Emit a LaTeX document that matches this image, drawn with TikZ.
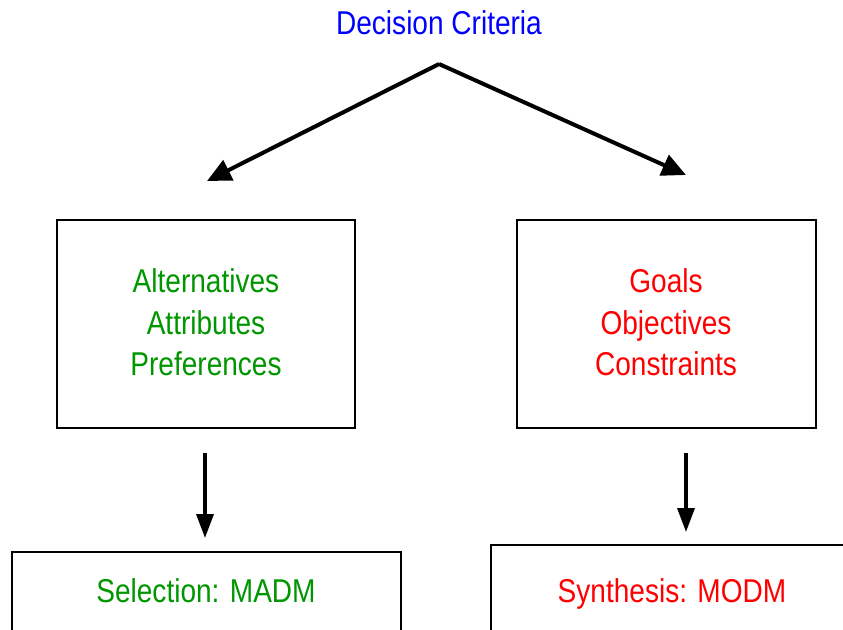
\documentclass[tikz,border=0pt]{standalone}
\usepackage{fontspec}
\setmainfont{Liberation Sans}[FakeStretch=0.85]
\usetikzlibrary{arrows.meta}
\definecolor{cblue}{RGB}{0,0,255}
\definecolor{cgreen}{RGB}{0,150,0}
\definecolor{cred}{RGB}{255,0,0}
\tikzset{
  box/.style={draw=black, line width=2pt},
  lbl/.style={font=\fontsize{33}{42}\selectfont, inner sep=0pt, align=center, anchor=base},
  bigarrow/.style={line width=4pt, -{Triangle[length=24pt,width=22pt]}},
  downarrow/.style={line width=3.5pt, -{Triangle[length=24pt,width=17pt]}},
}
\begin{document}
\begin{tikzpicture}[x=1pt,y=-1pt]
\useasboundingbox (0,0) rectangle (843,629);
\clip (0,0) rectangle (843,629);
\fill[white] (0,0) rectangle (843,629);
\node[lbl, text=cblue] (title) at (439,34.5) {Decision Criteria};
\coordinate (apex) at (439,64);
\coordinate (ltip) at (207,181);
\coordinate (rtip) at (686,175);
\draw[bigarrow, line join=miter] (apex) -- (ltip);
\draw[bigarrow] (apex) -- (rtip);
\node[box, minimum width=298pt, minimum height=208pt] (lbox) at (206,324) {};
\node[box, minimum width=299pt, minimum height=208pt] (rbox) at (666.5,324) {};
\node[lbl, text=cgreen] (alt) at (206,292) {Alternatives};
\node[lbl, text=cgreen] (att) at (206,334) {Attributes};
\node[lbl, text=cgreen] (pref) at (206,375) {Preferences};
\node[lbl, text=cred] (goals) at (666,292) {Goals};
\node[lbl, text=cred] (obj) at (666,334) {Objectives};
\node[lbl, text=cred] (con) at (666,375) {Constraints};
\coordinate (ls) at (205,453);
\coordinate (le) at (205,538);
\coordinate (rs) at (686,453);
\coordinate (re) at (686,532);
\draw[downarrow] (ls) -- (le);
\draw[downarrow] (rs) -- (re);
\draw[box] (12,680) -- (12,552) -- (401,552) -- (401,680);
\draw[box] (491,680) -- (491,545) -- (870,545);
\node[lbl, text=cgreen] (madm) at (206,602) {Selection: MADM};
\node[lbl, text=cred] (modm) at (672,602) {Synthesis: MODM};
\end{tikzpicture}
\end{document}
